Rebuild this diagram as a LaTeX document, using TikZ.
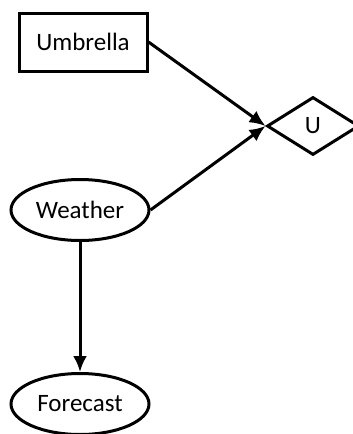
\documentclass[tikz,border=0pt]{standalone}
\usepackage{fontspec}
\setmainfont{Carlito}
\usepackage{tikz}
\usetikzlibrary{shapes.geometric,arrows.meta}
\tikzstyle{decision}=[rectangle,draw,line width=3pt,minimum width=128pt,minimum height=58pt,inner sep=0pt]
\tikzstyle{chance}=[ellipse,draw,line width=3pt,minimum width=138pt,minimum height=61pt,inner sep=0pt]
\tikzstyle{utility}=[diamond,draw,line width=3pt,minimum width=92pt,minimum height=58pt,inner sep=0pt]

\begin{document}
\begin{tikzpicture}[x=1pt,y=-1pt,line width=3pt,>={Latex[length=16pt,width=14pt]},font=\fontsize{25}{30}\selectfont]
          \clip (0,0) rectangle (353,434);
          \node[decision] (umb) at (83, 42) {Umbrella};
          \node[utility] (u) at (313, 126) {U};
          \node[chance] (wea) at (80, 210) {Weather};
          \node[chance] (fc) at (80, 404) {Forecast};
          \draw[->] (umb.east) -- (u.west);
          \draw[->] (wea.east) -- (u.west);
          \draw[->] (wea.south) -- (fc.north);
        \end{tikzpicture}
\end{document}
